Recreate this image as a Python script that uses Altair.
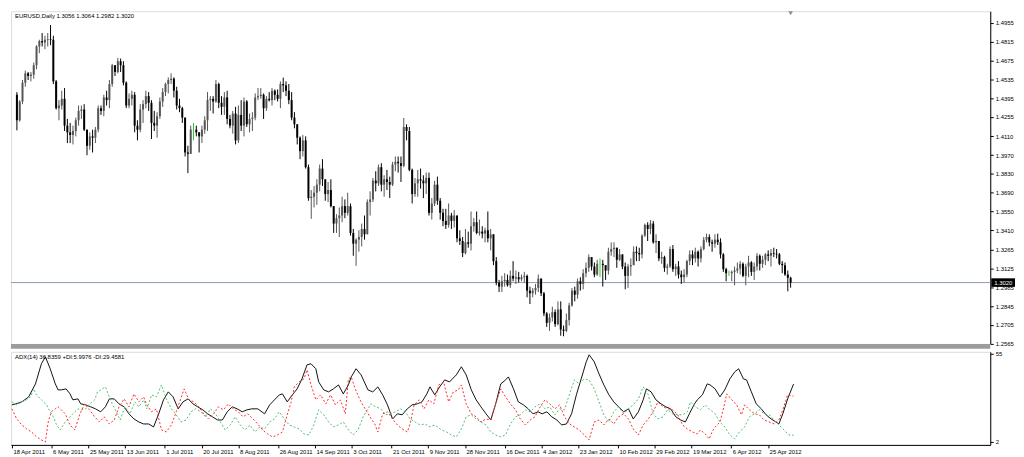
import altair as alt
import pandas as pd

# ---------------- data (prices x10000) ----------------
symbol = "EURUSD,Daily"
first_open = 14420
close = [14230,14370,14510,14580,14560, 14570,14640,14780,14820,14810, 14830,14835,14830,14520,14320,
         14340,14390,14190,14140,14120, 14150,14230,14300,14310,14160, 14040,14110,14100,14160,14320,
         14300,14400,14380,14500,14640, 14590,14670,14640,14510,14340, 14390,14420,14190,14160,14310,
         14350,14410,14360,14210,14190, 14260,14370,14440,14500,14530, 14540,14450,14340,14320,14250,
         13990,13980,14160,14160,14140, 14110,14160,14230,14380,14390, 14370,14500,14360,14330,14400,
         14240,14190,14280,14080,14270, 14190,14370,14200,14240,14250, 14400,14410,14420,14320,14390,
         14380,14450,14420,14390,14500, 14490,14450,14380,14250,14200, 14100,14000,14080,13880,13650,
         13660,13690,13750,13870,13790, 13680,13710,13590,13460,13500, 13520,13590,13540,13590,13390,
         13310,13340,13360,13420,13380, 13620,13640,13780,13760,13880, 13750,13790,13770,13750,13900,
         13920,13910,13890,14180,14150, 13860,13680,13760,13790,13780, 13760,13800,13540,13610,13750,
         13630,13540,13480,13450,13520, 13480,13520,13350,13330,13240, 13320,13310,13440,13470,13390,
         13400,13385,13410,13350,13380, 13180,13020,12990,13030,13040, 13000,13070,13050,13060,13045,
         13060,13070,12960,12940,12960, 12980,13050,12940,12790,12720, 12760,12800,12710,12820,12670,
         12660,12740,12850,12960,12930, 13030,13010,13090,13130,13210, 13140,13080,13160,13160,13150,
         13110,13250,13270,13280,13190, 13230,13140,13070,13140,13150, 13250,13240,13230,13370,13450,
         13420,13460,13320,13330,13200, 13210,13130,13140,13270,13120, 13140,13080,13060,13080,13180,
         13230,13200,13250,13200,13270, 13340,13360,13320,13310,13340, 13320,13230,13120,13090,13090,
         13100,13110,13125,13160,13070, 13140,13170,13100,13140,13220, 13160,13190,13230,13220,13240,
         13235,13230,13160,13150,13080, 13056,13020]
high = [14440,14380,14530,14600,14590, 14590,14660,14790,14830,14880, 14860,14880,14940,14860,14530,
        14380,14450,14470,14240,14210, 14190,14250,14340,14340,14350, 14160,14140,14160,14180,14340,
        14340,14420,14450,14530,14650, 14640,14695,14690,14670,14520, 14430,14450,14440,14230,14350,
        14380,14450,14440,14380,14300, 14290,14400,14470,14510,14550, 14580,14550,14480,14390,14330,
        14240,14040,14190,14210,14190, 14140,14190,14260,14440,14410, 14410,14530,14510,14410,14440,
        14450,14270,14300,14330,14340, 14380,14400,14380,14280,14290, 14430,14470,14470,14430,14410,
        14440,14470,14460,14460,14520, 14548,14520,14500,14440,14290, 14200,14110,14120,14110,13900,
        13710,13740,13790,13900,13940, 13790,13770,13790,13590,13530, 13580,13660,13640,13690,13610,
        13420,13350,13410,13460,13520, 13640,13700,13800,13850,13900, 13910,13820,13860,13810,13920,
        13960,13960,13960,14247,14200, 14180,13870,13800,13860,13870, 13820,13840,13840,13650,13780,
        13810,13650,13570,13570,13610, 13540,13560,13520,13410,13360, 13420,13400,13550,13500,13550,
        13490,13440,13430,13550,13420, 13370,13210,13040,13070,13090, 13080,13110,13180,13110,13100,
        13080,13100,13080,12990,12980, 13010,13080,13050,12950,12800, 12790,12840,12820,12880,12880,
        12700,12790,12870,12980,12990, 13050,13060,13120,13170,13230, 13210,13170,13190,13200,13190,
        13150,13280,13320,13320,13280, 13270,13220,13170,13160,13200, 13290,13290,13280,13380,13460,
        13470,13486,13480,13380,13330, 13250,13220,13160,13290,13300, 13160,13180,13110,13120,13190,
        13260,13260,13280,13260,13290, 13360,13385,13380,13340,13380, 13385,13350,13240,13130,13110,
        13110,13140,13170,13180,13170, 13160,13220,13180,13170,13240, 13230,13220,13240,13260,13270,
        13280,13270,13240,13180,13170, 13110,13064]
low = [14155,14220,14350,14480,14530, 14520,14540,14610,14730,14780, 14760,14780,14790,14500,14310,
       14230,14310,14150,14060,14060, 14050,14110,14190,14240,14150, 13970,14010,13990,14060,14140,
       14270,14260,14340,14320,14480, 14560,14580,14590,14490,14320, 14320,14340,14140,14080,14140,
       14210,14320,14300,14090,14150, 14100,14240,14330,14410,14430, 14500,14400,14310,14290,14210,
       13960,13836,13980,14080,14110, 13990,14060,14130,14150,14300, 14280,14360,14320,14270,14270,
       14200,14170,14130,14050,14060, 14150,14110,14180,14140,14150, 14230,14380,14390,14240,14300,
       14370,14340,14380,14370,14320, 14440,14410,14350,14230,14170, 14050,13940,13960,13870,13630,
       13495,13580,13600,13700,13740, 13630,13620,13580,13390,13390, 13360,13470,13500,13520,13370,
       13220,13145,13250,13290,13340, 13420,13520,13620,13700,13740, 13700,13660,13710,13650,13740,
       13850,13840,13770,13880,14080, 13850,13610,13660,13660,13720, 13650,13680,13520,13490,13590,
       13600,13490,13440,13420,13430, 13420,13430,13320,13300,13210, 13230,13280,13260,13400,13380,
       13370,13350,13320,13320,13260, 13150,13000,12950,12950,12990, 12990,12980,13030,13010,13020,
       13030,13020,12910,12860,12910, 12930,12950,12920,12770,12690, 12660,12730,12690,12700,12624,
       12620,12650,12700,12840,12880, 12900,12960,12970,13060,13100, 13110,13060,13070,13060,12990,
       13040,13080,13220,13210,13130, 13180,13120,12970,12980,13070, 13160,13180,13180,13200,13360,
       13330,13380,13310,13240,13180, 13160,13100,13080,13130,13100, 13070,13050,13010,13020,13060,
       13150,13150,13170,13140,13170, 13260,13320,13290,13250,13280, 13300,13200,13100,13030,13070,
       13030,13000,13090,13080,13060, 13000,13060,13070,13040,13110, 13110,13130,13150,13180,13140,
       13210,13200,13150,13090,13070, 12955,12982]

price_ticks = [1.4955, 1.4815, 1.4675, 1.4535, 1.4395, 1.4255, 1.4110, 1.3970, 1.3830,
               1.3690, 1.3550, 1.3410, 1.3265, 1.3125, 1.2985, 1.2845, 1.2705, 1.2565]
date_ticks = [0, 14, 27, 40, 54, 67, 80, 94, 107, 120, 134, 147, 160, 174, 187, 200, 214, 227, 240, 254, 267]
date_labels = ["18 Apr 2011", "6 May 2011", "25 May 2011", "13 Jun 2011", "1 Jul 2011", "20 Jul 2011",
               "8 Aug 2011", "26 Aug 2011", "14 Sep 2011", "3 Oct 2011", "21 Oct 2011", "9 Nov 2011",
               "28 Nov 2011", "16 Dec 2011", "4 Jan 2012", "23 Jan 2012", "10 Feb 2012", "29 Feb 2012",
               "19 Mar 2012", "6 Apr 2012", "25 Apr 2012"]

adx = [(0,24.3),(1.4,24.9),(3.5,26.1),(5.9,29.1),(8.3,36.9),(10.4,49),(11.8,53.2),(13.5,46),(15.3,36.9),
       (16.3,33.3),(17.4,33.3),(19.1,33.9),(20.5,30.9),(21.5,27.3),(23.3,27.9),(24.3,24.9),(26,24.3),
       (27.8,23.1),(29.5,21.9),(31.3,20.1),(33,23.1),(34.4,27.9),(36.1,27.9),(37.8,24.9),(39.6,23.1),
       (41.3,18.9),(43.1,15.8),(44.8,14),(46.5,12.8),(48.3,12.8),(50,11),(51.7,18.3),(53.5,27.3),
       (55.2,32.1),(56.9,29.1),(58.7,21.9),(60.4,26.1),(62.2,27.9),(63.9,24.9),(65.6,23.1),(67.4,21.3),
       (69.1,18.9),(70.8,17.1),(72.6,15.2),(74.3,15.2),(76,20.1),(77.8,23.1),(79.5,21.9),(81.3,20.1),
       (83,21.3),(84.7,21.9),(86.8,21.9),(89.2,18.9),(91,24.3),(92.7,27.3),(94.4,30.3),(95.5,30.9),
       (97.2,26.1),(99,30.3),(100.7,33.9),(102.4,39.9),(104.2,48.4),(105.6,49),(107.3,46),(108.3,38.1),
       (110.1,33.3),(111.8,32.1),(113.5,33.9),(115.3,36.3),(117,30.9),(118.8,36.3),(119.8,41.1),
       (121.5,46),(123.3,42.3),(125.7,33.3),(127.4,32.1),(129.2,35.1),(130.9,30.3),(132.6,24.3),
       (134.4,15.8),(136.1,18.9),(137.8,18.3),(139.6,21.9),(141.3,24.3),(143.1,24.9),(144.8,26.1),
       (146.5,30.9),(147.6,35.1),(149.3,30.3),(151,35.1),(152.8,39.3),(154.5,38.1),(156.9,42.3),
       (158.7,47.2),(160.4,42.3),(162.2,33.3),(163.9,27.3),(165.6,23.1),(167.4,18.9),(169.1,15.2),
       (170.8,24.9),(172.6,36.9),(174.3,39.3),(175.3,41.1),(177.1,33.9),(178.8,26.1),(180.6,24.3),
       (182.3,21.9),(184,18.9),(185.8,20.1),(187.2,18.9),(188.9,20.1),(190.6,17.1),(192.4,15.2),
       (194.1,12.2),(195.8,12.8),(197.6,18.9),(199.3,30.3),(201,39.9),(202.8,50.2),(203.8,54.4),
       (205.6,50.2),(207.3,42.9),(209,36.3),(210.8,30.3),(212.5,26.1),(214.2,23.1),(216,20.1),
       (217.7,21.9),(219.4,15.8),(221.2,20.1),(222.9,27.3),(224,33.9),(225.7,32.1),(227.4,27.3),
       (229.2,24.9),(230.9,23.1),(232.6,21.9),(234.4,17.1),(236.1,15.2),(237.8,14),(239.2,18.9),
       (241,24.9),(242,27.3),(243.8,30.3),(245.5,36.9),(246.5,36.3),(248.3,33.9),(250,29.1),
       (251.7,33.3),(253.5,39.9),(255.2,44.1),(256.6,46),(258.3,39.9),(259.4,39.3),(261.1,32.1),
       (262.8,24.9),(264.6,21.9),(266.3,18.3),(268.1,15.8),(269.8,14),(270.8,12.8),(272.2,18.9),
       (273.9,27.9),(276,36.8)]
plus_di = [(0,26.1),(1.7,24.3),(3.5,26.1),(5.2,27.3),(6.6,29.1),(7.6,33.9),(8.7,30.3),(10.4,27.3),
           (12.2,24.3),(13.5,20.1),(14.6,17.1),(15.6,12.8),(17,9.2),(18.8,14),(20.5,17.1),(21.5,18.9),
           (23.3,21.9),(24.3,21.3),(26,21.9),(27.4,24.9),(29.2,27.3),(30.2,32.1),(31.9,33.9),(33,35.1),
           (34.4,29.1),(35.4,24.9),(36.5,21.3),(38.2,15.2),(39.9,23.1),(41.7,18.9),(43.4,26.1),
           (44.8,23.1),(46.5,27.3),(47.6,21.9),(49.3,30.3),(51,29.1),(52.8,36.3),(54.5,27.9),(56.3,21.9),
           (58,18.3),(59.7,14),(61.5,15.2),(63.2,20.1),(64.9,21.9),(66.7,20.1),(68.4,17.1),(70.1,21.9),
           (71.9,18.9),(73.6,14),(75.3,9.2),(77.1,12.2),(78.8,17.1),(80.6,12.2),(82.3,9.2),(84,12.2),
           (85.8,8),(87.5,11),(89.2,9.8),(91,14),(92.7,15.8),(94.4,20.1),(96.2,15.8),(97.9,12.2),
           (99.7,11),(101.4,9.8),(103.1,6.8),(104.9,6.2),(106.6,12.2),(108.3,21.3),(110.1,18.3),
           (111.8,14),(113.5,11),(115.3,12.2),(117,14),(118.8,9.2),(120.5,6.2),(122.2,9.2),(124,17.1),
           (125.7,21.9),(126.7,24.9),(128.5,23.1),(130.2,21.9),(131.9,18.3),(133.7,18.9),(135.4,20.1),
           (137.2,21.9),(138.9,20.1),(140.6,15.8),(142.4,14),(144.1,12.2),(145.8,12.8),(147.6,11),
           (149.3,12.2),(151.7,9.2),(153.5,8),(155.2,6.2),(156.9,5),(158.7,9.8),(160.4,17.1),(162.2,18.3),
           (163.9,15.8),(165.6,14),(167.4,12.2),(169.1,8),(170.8,6.2),(172.6,5),(174.3,6.2),(176,12.8),
           (177.8,17.1),(179.5,18.3),(181.3,21.3),(183,20.1),(184.7,23.1),(186.5,24.9),(188.2,21.9),
           (189.9,23.1),(191.7,18.3),(193.4,21.9),(195.1,21.3),(196.9,30.9),(198.6,39.3),(200.3,36.9),
           (202.1,39.9),(203.8,39.3),(205.6,33.9),(207.3,26.1),(209,18.3),(210.8,14),(212.5,20.1),
           (214.2,23.1),(216,18.9),(217.7,21.9),(219.4,24.3),(221.2,27.9),(222.9,35.1),(224.7,30.3),
           (226.4,18.9),(228.1,15.8),(229.9,17.1),(231.6,21.3),(233.3,18.9),(235.1,18.3),(236.8,18.3),
           (238.5,20.1),(239.6,26.1),(241.3,23.1),(243.1,21.3),(244.8,24.3),(246.5,21.3),(248.3,18.9),
           (250,14),(251.7,11),(253.5,6.2),(255.2,3.8),(256.9,8),(258.7,11),(260.4,17.1),(262.2,18.9),
           (263.9,21.3),(265.6,18.9),(267.4,18.3),(269.1,15.2),(270.8,12.2),(272.6,9.2),(274.3,6.2),
           (276,6.0)]
minus_di = [(0,21.9),(1.7,15.8),(3.5,12.2),(5.2,9.8),(6.9,8),(8.7,5),(10.4,3.2),(11.8,2),(12.8,14),
            (13.9,20.1),(15.3,21.9),(16.3,23.1),(17.4,21.3),(18.8,18.9),(20.5,12.2),(22.2,9.2),(24,18.9),
            (25.7,24.9),(27.4,21.3),(29.2,17.1),(30.9,14),(32.6,17.1),(34.4,12.8),(36.1,15.2),(37.8,23.1),
            (39.6,27.9),(41.3,23.1),(43.1,30.9),(44.8,26.1),(46.5,29.1),(47.6,24.3),(49.3,20.1),(51,21.9),
            (52.8,9.2),(54.5,8),(56.3,12.2),(58,20.1),(59,24.9),(60.8,33.9),(62.5,27.3),(64.2,26.1),
            (66,23.1),(67.7,18.9),(69.4,15.8),(71.2,18.9),(72.9,23.1),(74.7,21.3),(76.4,24.9),(78.1,21.9),
            (79.9,20.1),(81.6,17.1),(83.3,18.9),(85.1,15.8),(86.8,12.8),(88.5,9.2),(90.3,6.8),(92,5),
            (93.8,6.2),(95.5,8),(97.2,18.3),(98.6,26.1),(99.7,35.1),(101.4,38.1),(103.1,39.9),(104.2,45.3),
            (105.6,36.3),(107.3,27.3),(109,30.3),(110.8,24.9),(112.5,30.3),(114.2,24.3),(116,27.3),
            (117.7,18.9),(118.8,39.9),(119.8,41.1),(121.2,33.9),(122.9,27.3),(124.7,21.9),(126.4,17.1),
            (128.1,12.8),(129.2,8),(130.9,18.9),(132.6,20.1),(134.4,15.8),(136.1,12.2),(137.8,9.8),
            (139.6,8),(140.6,12.8),(142,24.3),(143.8,27.3),(145.5,21.9),(147.2,27.3),(149,24.9),
            (150.7,36.3),(152.4,38.1),(154.2,26.1),(155.9,32.1),(157.6,33.3),(158.7,36.3),(160.4,24.9),
            (162.2,18.9),(163.9,17.1),(165.6,14),(167.4,15.8),(169.1,15.2),(170.8,24.9),(172.6,33.9),
            (174.3,29.1),(176,24.9),(177.8,21.3),(179.5,15.8),(181.3,12.2),(183,15.2),(184.7,17.1),
            (186.5,23.1),(188.2,27.3),(189.9,24.9),(191.7,21.9),(193.4,24.3),(195.1,17.1),(196.9,12.8),
            (198.6,11),(200.3,9.2),(202.1,6.2),(203.8,3.2),(205.6,14),(207.3,15.2),(209,12.2),(210.8,15.8),
            (212.5,12.8),(214.2,17.1),(216,18.9),(217.7,15.8),(219.4,9.8),(221.2,6.2),(222.9,12.2),
            (224.7,15.8),(226.4,20.1),(228.1,26.1),(229.9,23.1),(231.6,21.9),(233.3,21.3),(235.1,18.3),
            (236.8,12.2),(238.5,9.8),(240.3,8),(242,6.8),(243.1,9.2),(244.8,6.8),(246.2,3.8),(247.2,8),
            (248.3,11),(250,14),(251.4,23.1),(252.4,30.9),(254.2,27.3),(255.9,24.3),(257.6,18.3),
            (258.7,24.3),(260.4,21.3),(262.2,18.9),(263.9,18.3),(265.6,15.2),(267.4,14),(269.1,12.8),
            (270.8,15.2),(272.2,21.3),(273.9,30.3),(276,29.5)]
ind_last = [36.8359, 5.9976, 29.4581]

# ---------------- tables ----------------
opens = [first_open] + close[:-1]
rows = []
for i, (o, c, h, l) in enumerate(zip(opens, close, high, low)):
    kind = "up" if c > o else ("down" if c < o else "doji")
    rows.append(dict(i=i, o=o / 1e4, c=c / 1e4, h=max(h, o, c) / 1e4, l=min(l, o, c) / 1e4, kind=kind))
bars = pd.DataFrame(rows)

ind = pd.concat([
    pd.DataFrame(adx, columns=["x", "v"]).assign(s="adx"),
    pd.DataFrame(plus_di, columns=["x", "v"]).assign(s="plus"),
    pd.DataFrame(minus_di, columns=["x", "v"]).assign(s="minus"),
])

last = bars.iloc[-1]
title_txt = f"{symbol}  {last.o:.4f} {last.h:.4f} {last.l:.4f} {last.c:.4f}"
ind_txt = f"ADX(14) {ind_last[0]:.4f} +DI:{ind_last[1]:.4f} -DI:{ind_last[2]:.4f}"
one = pd.DataFrame({"p": [float(last.c)], "i": [int(last.i)], "t": [title_txt], "it": [ind_txt],
                    "pt": [f"{last.c:.4f}"]})

# ---------------- layout ----------------
W, H1, H2 = 989, 336, 94
FONT = "Liberation Sans"
FS = 6
xscale = alt.Scale(domain=[-0.35, 345.45], nice=False, zero=False)
yscale = alt.Scale(domain=[1.2563, 1.5043], nice=False, zero=False)
iscale = alt.Scale(domain=[0.21, 56.19], nice=False, zero=False)

price_axis = alt.Axis(orient="right", values=price_ticks, format=".4f", labelFontSize=FS,
                      labelFont=FONT, tickSize=3, labelPadding=2, grid=False, domainColor="#000",
                      tickColor="#000", labelColor="#000", title=None, labelOverlap=False)
ind_axis = alt.Axis(orient="right", values=[2, 55], format="d", labelFontSize=FS, labelFont=FONT,
                    tickSize=3, labelPadding=2, grid=False, domainColor="#000", tickColor="#000",
                    labelColor="#000", title=None)
lab_expr = ("[" + ",".join(f"'{s}'" for s in date_labels) + "][indexof(["
            + ",".join(str(t) for t in date_ticks) + "], datum.value)]")
date_axis = alt.Axis(orient="bottom", values=date_ticks, labelExpr=lab_expr, labelAlign="left",
                     labelBaseline="top", labelFontSize=FS, labelFont=FONT, tickSize=3, labelPadding=1,
                     labelOffset=1, labelOverlap=False, labelFlush=False, grid=False,
                     domainColor="#000", tickColor="#000", labelColor="#000", title=None)

X = alt.X("i:Q", scale=xscale, axis=None)
kind_color = alt.Color("kind:N", scale=alt.Scale(domain=["up", "down", "doji"],
                                                 range=["#8c8c8c", "#000000", "#22cc22"]), legend=None)
wick_color = alt.Color("kind:N", scale=alt.Scale(domain=["up", "down", "doji"],
                                                 range=["#555555", "#000000", "#22cc22"]), legend=None)

base = alt.Chart(bars)
single = alt.Chart(one)
PY = alt.Y("p:Q", scale=yscale, axis=price_axis, title=None)

price_line = single.mark_rule(color="#8b9bb0", strokeWidth=1).encode(y=PY)
wicks = base.mark_rule(strokeWidth=1).encode(
    x=X, y=alt.Y("l:Q", scale=yscale, axis=price_axis, title=None), y2="h:Q", color=wick_color)
bodies = base.mark_bar(size=2).encode(
    x=X, y=alt.Y("o:Q", scale=yscale, axis=price_axis, title=None), y2="c:Q", color=kind_color)
title_mark = single.mark_text(align="left", baseline="middle", fontSize=FS, font=FONT, color="#000").encode(
    x=alt.value(4), y=alt.value(5), text="t:N")
shift_mark = single.mark_point(shape="triangle-down", size=22, filled=True, color="#8a8f99",
                               opacity=1).encode(x=X, y=alt.value(2))
sep = single.mark_rule(color="#9c9c9c", strokeWidth=5).encode(
    x=alt.value(0), x2=alt.value(W), y=alt.value(H1 + 2.5))
box = single.mark_point(shape="M-1,-0.36L1,-0.36L1,0.36L-1,0.36Z", size=576, filled=True,
                        color="#000", opacity=1).encode(x=alt.value(W + 13), y=PY)
box_txt = single.mark_text(align="left", baseline="middle", fontSize=FS, font=FONT, color="#fff").encode(
    x=alt.value(W + 4), y=PY, text="pt:N")

main = alt.layer(price_line, wicks, bodies, title_mark, shift_mark, sep, box, box_txt).properties(
    width=W, height=H1)

ib = alt.Chart(ind)
IX = alt.X("x:Q", scale=xscale, axis=date_axis, title=None)
IY = alt.Y("v:Q", scale=iscale, axis=ind_axis, title=None)
adx_line = ib.transform_filter("datum.s == 'adx'").mark_line(color="#111111", strokeWidth=1).encode(x=IX, y=IY)
plus_line = ib.transform_filter("datum.s == 'plus'").mark_line(
    color="#4cbf73", strokeWidth=1, strokeDash=[2, 2]).encode(x=IX, y=IY)
minus_line = ib.transform_filter("datum.s == 'minus'").mark_line(
    color="#ff2a2a", strokeWidth=1, strokeDash=[2, 2]).encode(x=IX, y=IY)
ind_title = single.mark_text(align="left", baseline="middle", fontSize=FS, font=FONT, color="#000").encode(
    x=alt.value(4), y=alt.value(5), text="it:N")
indicator = alt.layer(adx_line, plus_line, minus_line, ind_title).properties(width=W, height=H2)

chart = alt.vconcat(main, indicator, spacing=0, padding=0).resolve_scale(
    x="independent", y="independent", color="independent"
).configure_view(stroke="#000", strokeWidth=1).configure(font=FONT, background="#ffffff")

chart.save("out.html", embed_options={"renderer": "svg", "actions": False})
